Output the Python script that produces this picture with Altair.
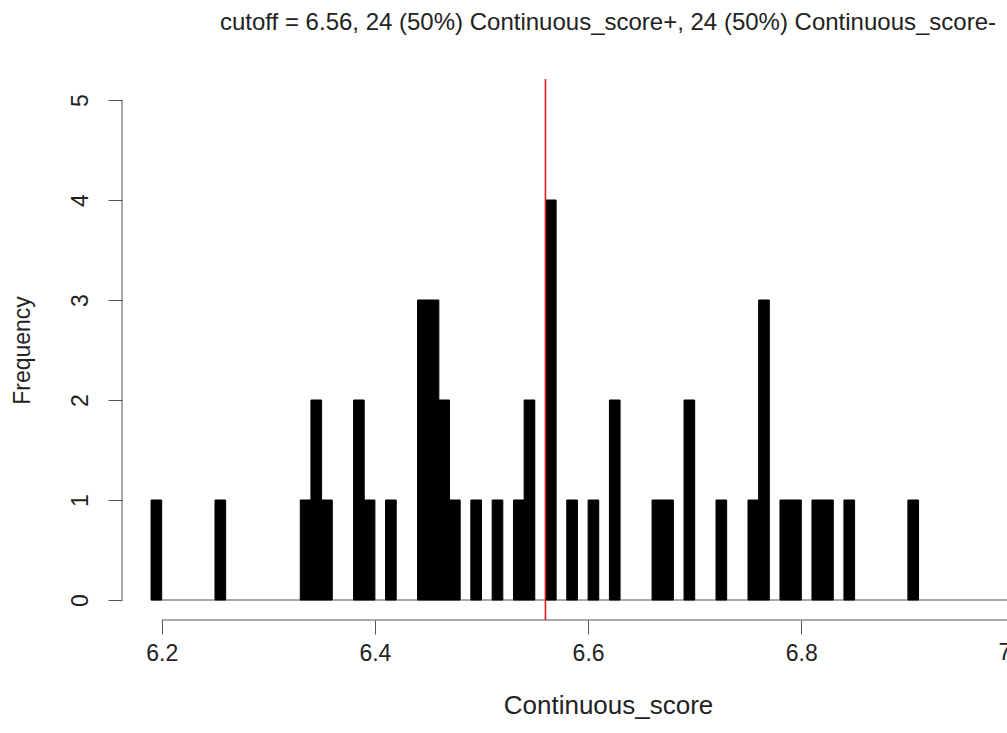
import altair as alt
import pandas as pd

# Histogram bins (left edges, width 0.01) and counts
bin_starts = [6.19, 6.25, 6.33, 6.34, 6.35, 6.38, 6.39, 6.41, 6.44, 6.45, 6.46,
              6.47, 6.49, 6.51, 6.53, 6.54, 6.56, 6.58, 6.60, 6.62, 6.66, 6.67,
              6.69, 6.72, 6.75, 6.76, 6.78, 6.79, 6.81, 6.82, 6.84, 6.90]
counts = [1, 1, 1, 2, 1, 2, 1, 1, 3, 3, 2, 1, 1, 1, 1, 2, 4, 1, 1, 2, 1, 1,
          2, 1, 1, 3, 1, 1, 1, 1, 1, 1]
bin_width = 0.01

cutoff = [6.56]
x_ticks = [6.2, 6.4, 6.6, 6.8, 7.0]
y_ticks = [0, 1, 2, 3, 4, 5]
first_break = 6.19
last_break = 7.0

title_text = "cutoff = 6.56, 24 (50%) Continuous_score+, 24 (50%) Continuous_score-"
FONT = "Liberation Sans"
AXIS_COL = "#555555"
TEXT_COL = "#222222"

bars = pd.DataFrame({
    "start": bin_starts,
    "end": [s + bin_width for s in bin_starts],
    "count": counts,
})
baseline = pd.DataFrame({"x": [first_break], "x2": [last_break], "y": [0]})
xline = pd.DataFrame({"x": [x_ticks[0]], "x2": [x_ticks[-1]], "y": [-0.2]})
yline = pd.DataFrame({"y": [y_ticks[0]], "y2": [y_ticks[-1]]})
cut = pd.DataFrame({"x": cutoff})
# tick at the right end (7.0) lies past the window edge; draw it so it is cut like the original
edge_tick = pd.DataFrame({"x": [x_ticks[-1]], "label": ["7.0"]})
title_df = pd.DataFrame({"t": [title_text]})

xscale = alt.Scale(domain=[6.16276, 6.99297], nice=False, zero=False)
yscale = alt.Scale(domain=[-0.2, 5.21], nice=False, zero=False)

x_axis = alt.Axis(
    values=x_ticks, format=".1f", domain=False, grid=False,
    tickSize=14, tickColor=AXIS_COL, tickWidth=1,
    labelFont=FONT, labelFontSize=23, labelColor=TEXT_COL, labelPadding=8,
    labelFlush=False, labelOverlap=False,
    title="Continuous_score", titleFont=FONT, titleFontSize=26,
    titleFontWeight="normal", titleColor=TEXT_COL,
    titleX=486, titleY=85, titleAlign="center", titleBaseline="middle",
)
y_axis = alt.Axis(
    values=y_ticks, format="d", domain=False, grid=False,
    tickSize=14, tickColor=AXIS_COL, tickWidth=1,
    labelFont=FONT, labelFontSize=23, labelColor=TEXT_COL,
    labelAngle=270, labelAlign="center", labelBaseline="alphabetic",
    labelPadding=21, labelFlush=False, labelOverlap=False,
    title="Frequency", titleFont=FONT, titleFontSize=23,
    titleFontWeight="normal", titleColor=TEXT_COL, titleAngle=270,
    titleX=-100, titleY=271, titleAlign="center", titleBaseline="middle",
)

bar_layer = alt.Chart(bars).mark_bar(
    color="black", stroke="black", strokeWidth=1
).encode(
    x=alt.X("start:Q", scale=xscale, axis=x_axis),
    x2="end:Q",
    y=alt.Y("count:Q", scale=yscale, axis=y_axis),
    y2=alt.datum(0),
)

base_layer = alt.Chart(baseline).mark_rule(color=AXIS_COL, strokeWidth=1).encode(
    x=alt.X("x:Q", scale=xscale, axis=x_axis), x2="x2:Q",
    y=alt.Y("y:Q", scale=yscale, axis=y_axis),
)

xline_layer = alt.Chart(xline).mark_rule(color=AXIS_COL, strokeWidth=1).encode(
    x=alt.X("x:Q", scale=xscale, axis=x_axis), x2="x2:Q",
    y=alt.Y("y:Q", scale=yscale, axis=y_axis),
)

yline_layer = alt.Chart(yline).mark_rule(color=AXIS_COL, strokeWidth=1).encode(
    x=alt.value(0),
    y=alt.Y("y:Q", scale=yscale, axis=y_axis), y2="y2:Q",
)

cut_layer = alt.Chart(cut).mark_rule(color="#d81e1e", strokeWidth=1.6).encode(
    x=alt.X("x:Q", scale=xscale, axis=x_axis),
)

edge_label = alt.Chart(edge_tick).mark_text(
    font=FONT, fontSize=23, color=TEXT_COL, baseline="top", align="center", dy=0
).encode(
    x=alt.X("x:Q", scale=xscale, axis=x_axis),
    y=alt.value(563),
    text="label:N",
)

title_layer = alt.Chart(title_df).mark_text(
    font=FONT, fontSize=24, color=TEXT_COL, baseline="middle", align="center"
).encode(
    x=alt.value(486),
    y=alt.value(-56),
    text="t:N",
)

chart = alt.layer(
    base_layer, bar_layer, xline_layer, yline_layer, cut_layer, edge_label, title_layer
).properties(
    width=885, height=541,
    padding={"left": 122, "top": 79, "right": 0, "bottom": 113},
    autosize=alt.AutoSizeParams(type="none"),
    background="white",
).configure_view(stroke=None)

chart.save("out.html", embed_options={"renderer": "svg", "actions": False})
